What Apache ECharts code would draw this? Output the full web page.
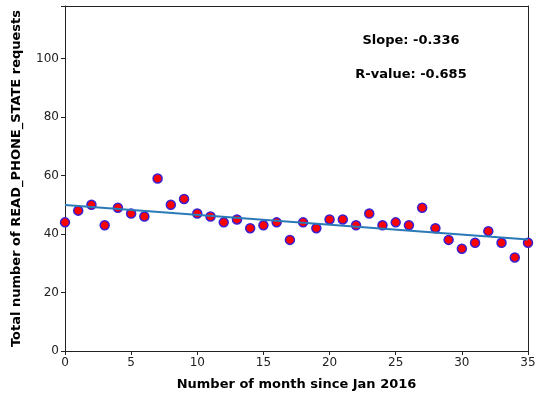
<!DOCTYPE html>
<html><head><meta charset="utf-8">
<script src="https://cdn.jsdelivr.net/npm/echarts@6/dist/echarts.min.js"></script>
<style>html,body{margin:0;padding:0;background:#fff}#c{width:539px;height:398px}</style>
</head><body><div id="c"></div>
<script>
const months = [0,1,2,3,4,5,6,7,8,9,10,11,12,13,14,15,16,17,18,19,20,21,22,23,24,25,26,27,28,29,30,31,32,33,34,35];
const requests = [44,48,50,43,49,47,46,59,50,52,47,46,44,45,42,43,44,38,44,42,45,45,43,47,43,44,43,49,42,38,35,37,41,37,32,37];
const fitX = [0,35];
const fitY = [49.9,38.1];
const xTicks = [0,5,10,15,20,25,30,35];
const yTicks = [0,20,40,60,80,100];
const slopeText = 'Slope: -0.336';
const rText = 'R-value: -0.685';

const chart = echarts.init(document.getElementById('c'));
const font = 'DejaVu Sans';
const frame = {show:true,onZero:false,lineStyle:{color:'#222',width:1}};
chart.setOption({
  animation:false,
  grid:{left:65,right:11,top:6,bottom:47},
  xAxis:[{type:'value',min:0,max:35,interval:5,
    name:'Number of month since Jan 2016',nameLocation:'middle',nameGap:27,
    nameTextStyle:{fontFamily:font,fontWeight:'bold',fontSize:13,color:'#000'},
    axisLine:frame,
    axisTick:{show:true,length:4,lineStyle:{color:'#222'}},
    axisLabel:{fontFamily:font,fontSize:12,color:'#222',margin:6,
      formatter:v=>xTicks.includes(v)?String(v):''},
    splitLine:{show:false}},
    {type:'value',position:'top',min:0,max:35,axisLine:frame,axisTick:{show:false},axisLabel:{show:false},splitLine:{show:false}}],
  yAxis:[{type:'value',min:0,max:118,interval:20,
    name:'Total number of READ_PHONE_STATE requests',nameLocation:'middle',nameGap:42,
    nameTextStyle:{fontFamily:font,fontWeight:'bold',fontSize:13,color:'#000'},
    axisLine:frame,
    axisTick:{show:true,length:4,lineStyle:{color:'#222'}},
    axisLabel:{fontFamily:font,fontSize:12,color:'#222',margin:6,
      formatter:v=>yTicks.includes(v)?String(v):''},
    splitLine:{show:false}},
    {type:'value',position:'right',min:0,max:118,axisLine:frame,axisTick:{show:false},axisLabel:{show:false},splitLine:{show:false}}],
  series:[
    {type:'line',data:fitX.map((x,i)=>[x,fitY[i]]),symbol:'none',
     lineStyle:{color:'#2a7ab8',width:2},z:3},
    {type:'scatter',data:months.map((m,i)=>[m,requests[i]]),symbolSize:9,
     itemStyle:{color:'#ff0000',borderColor:'#3b1fd0',borderWidth:1.5,opacity:1},z:2}
  ],
  graphic:[
    {type:'text',style:{text:slopeText,x:411,y:41,textAlign:'center',textVerticalAlign:'middle',
      font:'bold 13px "DejaVu Sans"',fill:'#000'}},
    {type:'text',style:{text:rText,x:411,y:75,textAlign:'center',textVerticalAlign:'middle',
      font:'bold 13px "DejaVu Sans"',fill:'#000'}}
  ]
});
</script></body></html>
